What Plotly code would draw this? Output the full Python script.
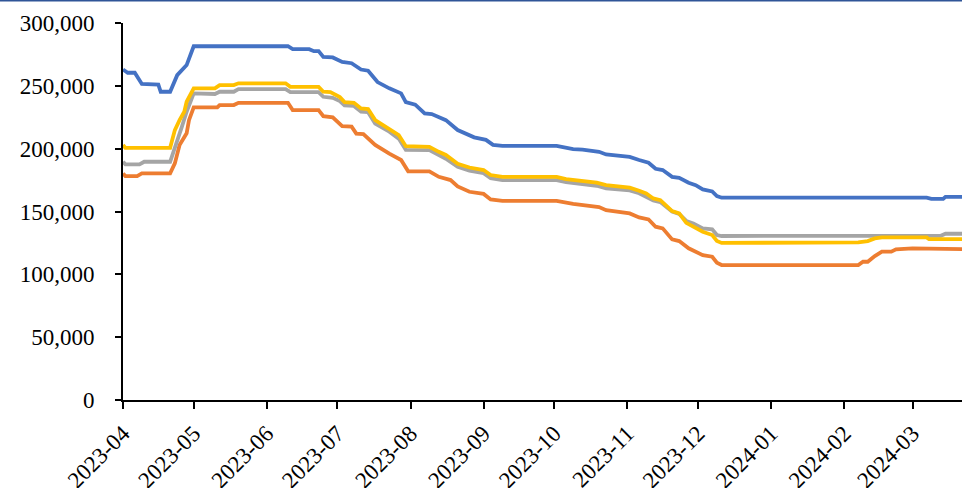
import plotly.graph_objects as go

# ---- data ----
blue_dates = ["2023-04-01","2023-04-03","2023-04-06","2023-04-09","2023-04-16","2023-04-17","2023-04-21",
              "2023-04-24","2023-04-28","2023-05-01","2023-06-10","2023-06-12","2023-06-19","2023-06-21",
              "2023-06-23","2023-06-25","2023-06-29","2023-07-03","2023-07-07","2023-07-11","2023-07-14",
              "2023-07-18","2023-07-23","2023-07-28","2023-07-30","2023-08-03","2023-08-07","2023-08-10",
              "2023-08-16","2023-08-21","2023-08-28","2023-09-02","2023-09-05","2023-09-09","2023-10-02",
              "2023-10-09","2023-10-13","2023-10-20","2023-10-23","2023-10-29","2023-11-02","2023-11-06",
              "2023-11-10","2023-11-13","2023-11-16","2023-11-20","2023-11-23","2023-11-27","2023-11-30",
              "2023-12-03","2023-12-07","2023-12-09","2023-12-11","2024-03-07","2024-03-09","2024-03-14",
              "2024-03-15","2024-03-22"]
blue_vals = [263000,260400,260400,251500,251000,245300,245300,
             258500,266500,281500,281500,279200,279200,277600,
             277600,273000,272600,269000,268000,263000,262000,
             253000,248000,244000,237000,235000,228000,227500,
             222700,214800,209000,207000,203000,202300,202300,
             199700,199300,197500,195400,194000,193500,191000,
             188800,184000,183000,177600,176800,172900,171000,
             167600,166000,162300,161000,161000,160000,160000,
             161700,161700]

orange_dates = ["2023-04-01","2023-04-02","2023-04-07","2023-04-09","2023-04-21","2023-04-23","2023-04-25",
                "2023-04-28","2023-04-29","2023-05-01","2023-05-11","2023-05-12","2023-05-18","2023-05-20",
                "2023-06-10","2023-06-12","2023-06-23","2023-06-25","2023-06-29","2023-07-03","2023-07-07",
                "2023-07-09","2023-07-12","2023-07-17","2023-07-23","2023-07-28","2023-07-31","2023-08-09",
                "2023-08-13","2023-08-18","2023-08-21","2023-08-26","2023-09-01","2023-09-04","2023-09-09",
                "2023-10-02","2023-10-09","2023-10-16","2023-10-20","2023-10-23","2023-10-29","2023-11-02",
                "2023-11-06","2023-11-10","2023-11-13","2023-11-16","2023-11-20","2023-11-23","2023-11-27",
                "2023-11-30","2023-12-03","2023-12-07","2023-12-09","2023-12-11","2024-02-07","2024-02-09",
                "2024-02-11","2024-02-14","2024-02-17","2024-02-21","2024-02-23","2024-03-01","2024-03-07",
                "2024-03-08","2024-03-22"]
orange_vals = [180300,178200,178200,180300,180300,188300,202900,
               212200,222700,232800,232800,234700,234700,236500,
               236500,230700,230700,225900,225000,218000,217500,
               212000,211500,203000,196000,191000,182000,182000,
               177600,175000,170000,165700,164000,159600,158500,
               158500,156000,154300,153500,151000,149300,148500,
               145300,143700,137900,136600,127800,126500,120700,
               118000,115300,114000,109200,107400,107400,110000,
               110000,114500,118000,118000,119900,120700,120700,
               120100,120100]

gray_dates = ["2023-04-01","2023-04-02","2023-04-08","2023-04-10","2023-04-21","2023-04-23","2023-04-26",
              "2023-04-28","2023-05-01","2023-05-10","2023-05-12","2023-05-18","2023-05-20","2023-06-09",
              "2023-06-11","2023-06-23","2023-06-25","2023-06-29","2023-07-02","2023-07-04","2023-07-08",
              "2023-07-11","2023-07-14","2023-07-17","2023-07-23","2023-07-27","2023-07-30","2023-08-09",
              "2023-08-13","2023-08-16","2023-08-21","2023-08-26","2023-09-01","2023-09-04","2023-09-09",
              "2023-10-02","2023-10-06","2023-10-13","2023-10-19","2023-10-23","2023-10-29","2023-11-02",
              "2023-11-06","2023-11-09","2023-11-12","2023-11-15","2023-11-20","2023-11-23","2023-11-26",
              "2023-11-29","2023-12-03","2023-12-07","2023-12-09","2023-12-11","2024-03-13","2024-03-15",
              "2024-03-22"]
gray_vals = [189600,187500,187500,189600,189600,200200,217500,
             229400,244000,243500,245300,245300,247400,247400,
             245000,245000,241300,240500,237900,234500,234000,
             229500,229000,220000,213500,208000,199000,198800,
             194500,192000,185500,182500,180500,176500,175000,
             175000,173300,172000,170500,168500,167500,166800,
             164500,162000,158800,157500,150000,148000,142500,
             140500,136600,135800,131300,130500,130700,132300,
             132300]

yellow_dates = ["2023-04-01","2023-04-02","2023-04-21","2023-04-23","2023-04-25","2023-04-27","2023-04-28",
                "2023-05-01","2023-05-10","2023-05-12","2023-05-18","2023-05-20","2023-06-09","2023-06-11",
                "2023-06-23","2023-06-25","2023-06-28","2023-07-02","2023-07-04","2023-07-08","2023-07-11",
                "2023-07-14","2023-07-17","2023-07-23","2023-07-27","2023-07-30","2023-08-09","2023-08-13",
                "2023-08-16","2023-08-21","2023-08-26","2023-09-01","2023-09-04","2023-09-09","2023-10-02",
                "2023-10-06","2023-10-13","2023-10-19","2023-10-23","2023-10-29","2023-11-02","2023-11-06",
                "2023-11-09","2023-11-12","2023-11-15","2023-11-20","2023-11-23","2023-11-26","2023-11-29",
                "2023-12-03","2023-12-07","2023-12-09","2023-12-11","2024-02-07","2024-02-11","2024-02-14",
                "2024-02-17","2024-03-07","2024-03-08","2024-03-22"]
yellow_vals = [202900,200700,200700,214800,222700,229400,237300,
               248000,248000,250600,250600,252000,252000,249200,
               249200,245300,245000,241000,237000,236500,232000,
               231500,222700,216000,210800,202000,201500,197500,
               195000,188000,185000,183000,179000,177600,177600,
               175800,174500,172900,171000,169700,169000,166500,
               164400,160400,159000,150300,148500,141000,137900,
               133900,131300,126500,125000,125400,126500,128600,
               129400,129400,128000,128000]

y_tick_vals = [0, 50000, 100000, 150000, 200000, 250000, 300000]
x_tick_vals = ["2023-04-01","2023-05-01","2023-06-01","2023-07-01","2023-08-01","2023-09-01",
               "2023-10-01","2023-11-01","2023-12-01","2024-01-01","2024-02-01","2024-03-01"]
x_tick_text = ["2023-04","2023-05","2023-06","2023-07","2023-08","2023-09",
               "2023-10","2023-11","2023-12","2024-01","2024-02","2024-03"]

series = [
    (blue_dates, blue_vals, "#4472C4"),
    (orange_dates, orange_vals, "#ED7D31"),
    (gray_dates, gray_vals, "#A5A5A5"),
    (yellow_dates, yellow_vals, "#FFC000"),
]

fig = go.Figure()
for d, v, c in series:
    fig.add_trace(go.Scatter(x=d, y=v, mode="lines",
                             line=dict(color=c, width=3.8), showlegend=False))

font = dict(family="Liberation Serif", size=23, color="#000000")

fig.update_layout(
    width=962, height=488,
    margin=dict(l=123, r=0, t=23, b=88, autoexpand=False),
    paper_bgcolor="white", plot_bgcolor="white",
    font=font,
    showlegend=False,
)
fig.update_xaxes(
    type="date", range=["2023-04-01", "2024-03-22"], automargin=False,
    tickvals=x_tick_vals, ticktext=x_tick_text, tickangle=-45,
    showgrid=False, zeroline=False,
    showline=True, linecolor="#000000", linewidth=2,
    ticks="outside", ticklen=7, tickwidth=2, tickcolor="#000000",
    tickfont=font, ticklabelstandoff=2,
)
fig.update_yaxes(
    range=[0, 300000], tickvals=y_tick_vals, tickformat=",", automargin=False,
    showgrid=False, zeroline=False,
    showline=True, linecolor="#000000", linewidth=2,
    ticks="outside", ticklen=6, tickwidth=2, tickcolor="#000000",
    tickfont=font, ticklabelstandoff=16,
)
# thin dark-blue rule along the top edge of the image
fig.add_shape(type="line", xref="paper", yref="paper",
              x0=-123/839, x1=1, y0=(400-0.5)/377, y1=(400-0.5)/377,
              line=dict(color="#2F5597", width=2))

fig.write_html("out.html", config={"displayModeBar": False},
               post_script="document.body.style.margin='0';document.body.style.padding='0';")
